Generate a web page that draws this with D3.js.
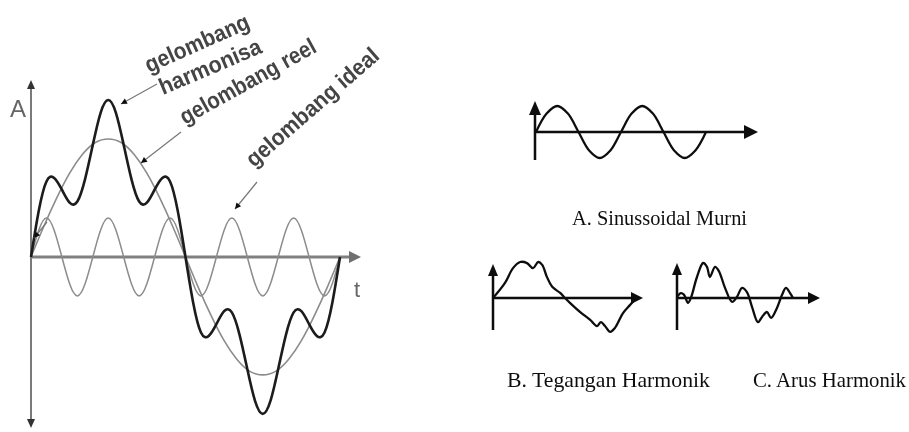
<!DOCTYPE html>
<html>
<head>
<meta charset="utf-8">
<script src="https://cdn.jsdelivr.net/npm/d3@7"></script>
<style>
  html, body { margin: 0; padding: 0; background: #fff; }
  svg { display: block; }
</style>
</head>
<body>
<svg id="chart" width="909" height="432"></svg>
<script>
// ---- Left panel: one period of the ideal wave, its 5th harmonic and the resulting real wave (t in degrees)
const idealT = [0, 15, 30, 45, 60, 75, 90, 105, 120, 135, 150, 165, 180, 195, 210, 225, 240, 255, 270, 285, 300, 315, 330, 345, 360];
const idealA = [0, 0.26, 0.5, 0.71, 0.87, 0.97, 1, 0.97, 0.87, 0.71, 0.5, 0.26, 0, -0.26, -0.5, -0.71, -0.87, -0.97, -1, -0.97, -0.87, -0.71, -0.5, -0.26, 0];

const harmT = [0, 18, 36, 54, 72, 90, 108, 126, 144, 162, 180, 198, 216, 234, 252, 270, 288, 306, 324, 342, 360];
const harmA = [0, 0.33, 0, -0.33, 0, 0.33, 0, -0.33, 0, 0.33, 0, -0.33, 0, 0.33, 0, -0.33, 0, 0.33, 0, -0.33, 0];

const realT = [0, 9, 18, 27, 36, 45, 54, 63, 72, 81, 90, 99, 108, 117, 126, 135, 144, 153, 162, 171, 180,
               189, 198, 207, 216, 225, 234, 243, 252, 261, 270, 279, 288, 297, 306, 315, 324, 333, 342, 351, 360];
const realA = [0, 0.39, 0.64, 0.67, 0.57, 0.46, 0.47, 0.66, 0.95, 1.22, 1.33, 1.22, 0.95, 0.66, 0.47, 0.46, 0.57, 0.67, 0.64, 0.39, 0,
               -0.39, -0.64, -0.67, -0.57, -0.46, -0.47, -0.66, -0.95, -1.22, -1.33, -1.22, -0.95, -0.66, -0.47, -0.46, -0.57, -0.67, -0.64, -0.39, 0];

const waveLabels = ["gelombang", "harmonisa", "gelombang reel", "gelombang ideal"];
const axisLabels = ["A", "t"];

// ---- Right panels: pure sine, harmonic voltage, harmonic current
const sineT = [0, 45, 90, 135, 180, 225, 270, 315, 360, 405, 450, 495, 540, 585, 630, 675, 720];
const sineV = [0, 0.71, 1, 0.71, 0, -0.71, -1, -0.71, 0, 0.71, 1, 0.71, 0, -0.71, -1, -0.71, 0];

const voltT = [0, 30, 50, 68, 85, 100, 113, 123, 135, 148, 168, 180, 193, 218, 243, 260, 270, 280, 293, 305, 325, 343, 360];
const voltV = [0, 0.42, 0.83, 1.0, 0.97, 0.83, 1.0, 0.92, 0.58, 0.31, 0.14, 0, -0.14, -0.39, -0.61, -0.78, -0.67, -0.78, -0.94, -0.83, -0.42, -0.19, 0.03];

const currT = [0, 12, 22, 34, 43, 62, 81, 93, 102, 118, 130, 149, 171, 186, 202, 217, 233, 251, 264, 279, 292, 310, 326, 338, 351, 360];
const currV = [0.03, 0.14, 0.09, -0.14, 0, 0.6, 1.0, 0.89, 0.6, 0.89, 0.77, 0.29, -0.11, 0.03, 0.29, 0.17, -0.26, -0.69, -0.54, -0.4, -0.57, -0.29, 0.09, 0.29, 0.14, 0];

const panelLabels = ["A. Sinussoidal Murni", "B. Tegangan  Harmonik", "C. Arus Harmonik"];

const svg = d3.select("#chart");
svg.append("rect").attr("width", 909).attr("height", 432).attr("fill", "#fff");

const soft = svg.append("defs").append("filter").attr("id", "soft");
soft.append("feGaussianBlur").attr("stdDeviation", 0.5);

// triangle arrowhead with its tip at (x, y), pointing along angle (0 = right)
function arrowHead(g, x, y, angle, len, halfW, fill) {
  g.append("path")
    .attr("d", `M0,0L${-len},${-halfW}L${-len},${halfW}Z`)
    .attr("transform", `translate(${x},${y}) rotate(${angle})`)
    .attr("fill", fill);
}

const zip = (T, V) => T.map((t, i) => [t, V[i]]);

// ================= left panel =================
const L = svg.append("g").attr("filter", "url(#soft)");
const xL = d3.scaleLinear().domain([0, 360]).range([31, 340]);
const yL = d3.scaleLinear().domain([-1.45, 1.5]).range([428, 80]);

// axes
L.append("line").attr("x1", xL(0)).attr("x2", xL(0)).attr("y1", yL(1.5) + 6).attr("y2", yL(-1.45) - 6)
  .attr("stroke", "#7a7a7a").attr("stroke-width", 2);
arrowHead(L, xL(0), yL(1.5), -90, 9, 4, "#333");
arrowHead(L, xL(0), yL(-1.45), 90, 9, 4, "#333");
L.append("line").attr("x1", xL(0)).attr("x2", 352).attr("y1", yL(0)).attr("y2", yL(0))
  .attr("stroke", "#808080").attr("stroke-width", 3);
arrowHead(L, 361, yL(0), 0, 12, 6, "#707070");

const lineL = d3.line().x(d => xL(d[0])).y(d => yL(d[1])).curve(d3.curveNatural);

L.append("path").datum(zip(idealT, idealA)).attr("d", lineL)
  .attr("fill", "none").attr("stroke", "#8c8c8c").attr("stroke-width", 1.6);
L.append("path").datum(zip(harmT, harmA)).attr("d", lineL)
  .attr("fill", "none").attr("stroke", "#8c8c8c").attr("stroke-width", 1.5);
L.append("path").datum(zip(realT, realA)).attr("d", lineL)
  .attr("fill", "none").attr("stroke", "#1c1c1c").attr("stroke-width", 2.6);

// axis letters
L.append("text").attr("x", 10).attr("y", 117).text(axisLabels[0])
  .attr("font-family", "Liberation Sans, Arial, sans-serif").attr("font-size", 24).attr("fill", "#666");
L.append("text").attr("x", 354).attr("y", 297).text(axisLabels[1])
  .attr("font-family", "Liberation Sans, Arial, sans-serif").attr("font-size", 22).attr("fill", "#666");

// rotated wave names
const namePos = [
  { x: 149, y: 73, a: -24, len: 112 },
  { x: 163, y: 95, a: -23, len: 109 },
  { x: 185, y: 125, a: -29, len: 152 },
  { x: 254, y: 168, a: -41, len: 168 }
];
waveLabels.forEach((s, i) => {
  const p = namePos[i];
  L.append("text").text(s)
    .attr("transform", `translate(${p.x},${p.y}) rotate(${p.a})`)
    .attr("textLength", p.len).attr("lengthAdjust", "spacingAndGlyphs")
    .attr("font-family", "Liberation Sans, Arial, sans-serif").attr("font-weight", "bold")
    .attr("font-size", 23).attr("fill", "#444");
});

// leader arrows from the names to the curves
const leaders = [
  [157, 84, 121, 104],
  [181, 132, 141, 163],
  [257, 182, 235, 209],
  [47, 222, 34, 238]
];
leaders.forEach(([x1, y1, x2, y2]) => {
  L.append("line").attr("x1", x1).attr("y1", y1).attr("x2", x2).attr("y2", y2)
    .attr("stroke", "#777").attr("stroke-width", 1.2);
  const ang = Math.atan2(y2 - y1, x2 - x1) * 180 / Math.PI;
  arrowHead(L, x2, y2, ang, 6, 3, "#111");
});

// ================= right panels =================
const R = svg.append("g").attr("filter", "url(#soft)");

function miniPanel(cfg, T, V) {
  const x = d3.scaleLinear().domain([0, cfg.tMax]).range([cfg.x0, cfg.x1]);
  const y = d3.scaleLinear().domain([-1, 1]).range([cfg.axisY + cfg.amp, cfg.axisY - cfg.amp]);
  // vertical axis
  R.append("line").attr("x1", cfg.yAxisX).attr("x2", cfg.yAxisX)
    .attr("y1", cfg.yTop + cfg.ah).attr("y2", cfg.yBot)
    .attr("stroke", "#111").attr("stroke-width", 2.5);
  arrowHead(R, cfg.yAxisX, cfg.yTop, -90, cfg.ah, cfg.aw - 1, "#111");
  // horizontal axis
  R.append("line").attr("x1", cfg.yAxisX).attr("x2", cfg.xEnd - cfg.ah + 1)
    .attr("y1", y(0)).attr("y2", y(0))
    .attr("stroke", "#111").attr("stroke-width", 2.5);
  arrowHead(R, cfg.xEnd, y(0), 0, cfg.ah, cfg.aw, "#111");
  // wave
  R.append("path").datum(zip(T, V))
    .attr("d", d3.line().x(d => x(d[0])).y(d => y(d[1])).curve(d3.curveCatmullRom.alpha(0.5)))
    .attr("fill", "none").attr("stroke", "#111").attr("stroke-width", 2.3);
  // caption
  R.append("text").attr("x", cfg.lx).attr("y", cfg.ly).text(cfg.label)
    .attr("textLength", cfg.lw).attr("lengthAdjust", "spacingAndGlyphs")
    .attr("font-family", "Liberation Serif, Times New Roman, serif")
    .attr("font-size", 21).attr("fill", "#111");
}

miniPanel({ tMax: 720, x0: 536, x1: 706, yAxisX: 535, yTop: 101, yBot: 160, axisY: 132, amp: 26,
            xEnd: 758, ah: 14, aw: 7, lx: 572, ly: 225, lw: 175, label: panelLabels[0] }, sineT, sineV);
miniPanel({ tMax: 360, x0: 493, x1: 637, yAxisX: 493, yTop: 264, yBot: 330, axisY: 298, amp: 36,
            xEnd: 643, ah: 12, aw: 6, lx: 507, ly: 387, lw: 203, label: panelLabels[1] }, voltT, voltV);
miniPanel({ tMax: 360, x0: 677, x1: 793, yAxisX: 677, yTop: 263, yBot: 330, axisY: 298, amp: 35,
            xEnd: 820, ah: 12, aw: 6, lx: 753, ly: 387, lw: 153, label: panelLabels[2] }, currT, currV);
</script>
</body>
</html>
